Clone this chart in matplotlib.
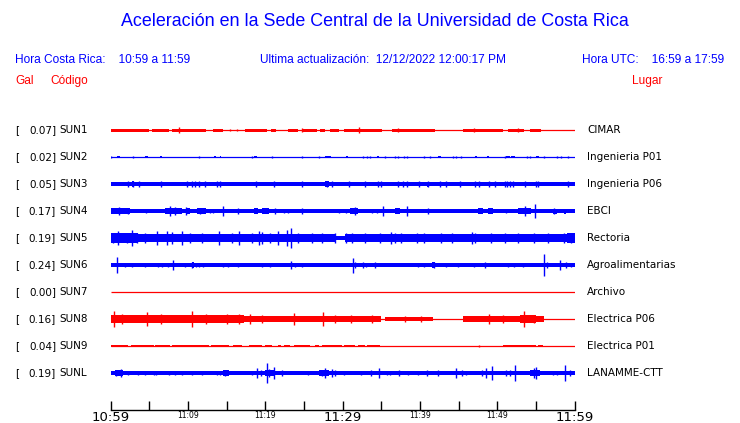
import matplotlib
matplotlib.use("Agg")
import matplotlib.pyplot as plt
import matplotlib.transforms as mtransforms

# ---------------- data ----------------
codes = ["SUN1", "SUN2", "SUN3", "SUN4", "SUN5", "SUN6", "SUN7", "SUN8", "SUN9", "SUNL"]
places = ["CIMAR", "Ingenieria P01", "Ingenieria P06", "EBCI", "Rectoria",
          "Agroalimentarias", "Archivo", "Electrica P06", "Electrica P01", "LANAMME-CTT"]
peak_gal = [0.07, 0.02, 0.05, 0.17, 0.19, 0.24, 0.00, 0.16, 0.04, 0.19]
trace_colors = ["red", "blue", "blue", "blue", "blue", "blue", "red", "red", "red", "blue"]

# minutes after 10:59
tick_minutes = list(range(0, 61, 5))
tick_labels = ["10:59", "", "11:09", "", "11:19", "", "11:29", "", "11:39", "", "11:49", "", "11:59"]
big_labels = ["10:59", "11:29", "11:59"]

# Envelope of each trace: bursts (start_min, end_min, half-amplitude) and spikes (min, half-amplitude)
bursts = {
    "SUN1": [(0.0, 5.0, 1.5), (5.4, 7.5, 1.5), (7.9, 12.3, 1.5), (13.3, 14.6, 1.5), (17.4, 20.2, 1.5),
             (20.8, 21.4, 1.5), (22.9, 24.2, 1.5), (24.8, 26.7, 1.5), (27.1, 27.7, 1.5), (28.4, 29.5, 1.5),
             (30.2, 35.1, 1.5), (36.4, 41.9, 1.5), (45.6, 50.8, 1.5), (51.4, 53.5, 1.5), (54.2, 55.7, 1.5)],
    "SUN2": [(0.9, 1.2, 1.3), (4.5, 4.8, 1.3), (6.4, 6.6, 1.3), (13.4, 13.7, 1.3), (14.1, 14.3, 1.3),
             (18.6, 18.9, 1.3), (27.8, 28.5, 1.3), (30.4, 30.7, 1.3), (34.4, 34.7, 1.3), (42.4, 42.8, 1.3),
             (47.1, 47.4, 1.3), (48.7, 49.0, 1.3), (51.2, 51.6, 1.3), (51.8, 52.3, 1.3), (55.0, 55.4, 1.3)],
    "SUN3": [(0.0, 60.0, 1.7), (2.8, 3.1, 2.7), (27.8, 28.2, 2.8), (40.9, 41.2, 2.5)],
    "SUN4": [(0.0, 60.0, 1.7), (0.0, 2.5, 2.7), (3.6, 4.0, 2.0), (7.1, 9.2, 2.7), (9.7, 10.3, 2.7),
             (11.2, 12.3, 2.7), (13.9, 14.2, 2.0), (15.7, 16.6, 2.3), (18.5, 19.1, 2.7), (19.6, 20.5, 2.7),
             (24.7, 25.2, 2.3), (26.2, 27.1, 2.3), (31.0, 32.0, 2.7), (36.8, 37.4, 2.7), (38.9, 39.8, 2.0),
             (42.5, 44.5, 2.3), (47.5, 48.2, 2.7), (48.8, 49.5, 2.7), (50.1, 50.5, 2.0), (52.7, 54.4, 3.0),
             (57.2, 57.8, 2.5), (58.7, 58.9, 2.5)],
    "SUN5": [(0.0, 29.0, 4.0), (29.0, 30.3, 2.0), (30.3, 60.0, 4.0), (0.0, 3.6, 4.6), (6.5, 9.0, 4.4),
             (17.0, 29.0, 4.4), (46.0, 48.0, 4.4), (59.0, 60.0, 4.6)],
    "SUN6": [(0.0, 60.0, 1.6), (10.5, 10.8, 2.7), (24.7, 25.0, 2.3), (41.6, 42.0, 2.7), (46.8, 47.2, 2.3)],
    "SUN7": [],
    "SUN8": [(0.0, 17.2, 3.7), (17.2, 23.6, 2.7), (23.6, 35.0, 3.0), (35.5, 41.7, 2.3), (45.6, 56.0, 2.7),
             (53.0, 55.0, 3.7)],
    "SUN9": [(0.0, 2.2, 1.3), (2.6, 5.6, 1.3), (5.8, 7.7, 1.3), (7.9, 12.7, 1.3), (13.0, 15.3, 1.3),
             (15.9, 17.0, 1.3), (17.9, 19.6, 1.3), (20.0, 20.9, 1.3), (21.7, 22.0, 1.3), (22.4, 23.2, 1.3),
             (23.7, 25.8, 1.3), (26.5, 26.9, 1.3), (27.3, 29.9, 1.3), (30.2, 31.6, 1.3), (32.0, 32.9, 1.3),
             (33.2, 34.8, 1.3), (50.8, 55.0, 1.3), (55.3, 55.9, 1.3)],
    "SUNL": [(0.0, 60.0, 1.7), (0.6, 1.6, 2.7), (14.5, 15.3, 2.7), (18.0, 19.5, 2.3), (20.0, 21.3, 3.0),
             (27.0, 28.2, 2.7), (34.5, 35.0, 2.3), (36.8, 37.6, 2.3), (40.7, 42.6, 2.3), (44.5, 45.8, 2.3),
             (47.8, 48.6, 2.3), (51.0, 52.5, 2.3), (54.3, 55.5, 3.0), (58.5, 59.2, 2.3)],
}

spikes = {
    "SUN1": [(8.9, 3.3), (15.5, 1.3), (16.3, 1.3), (24.8, 2.3), (32.1, 3.3), (37.2, 2.0), (47.0, 1.7),
             (52.7, 2.0)],
    "SUN2": [(0.1, 1.3), (2.9, 1.3), (11.4, 1.3), (18.3, 1.3), (20.9, 1.3), (24.8, 1.3), (27.0, 1.3),
             (32.7, 1.3), (33.2, 1.3), (33.5, 1.3), (35.5, 1.3), (36.8, 1.3), (37.2, 1.3), (37.9, 1.3),
             (38.3, 1.3), (40.6, 1.3), (41.3, 1.3), (44.3, 1.3), (44.7, 1.3), (45.3, 1.3), (51.0, 1.3),
             (53.8, 1.3), (54.2, 1.3), (56.0, 1.3), (57.8, 1.3), (58.2, 1.3), (59.1, 1.3)],
    "SUN3": [(2.3, 2.7), (2.9, 3.0), (3.7, 2.7), (6.5, 2.7), (9.9, 2.7), (10.5, 2.7), (10.9, 2.7),
             (11.4, 2.7), (12.2, 2.7), (13.8, 2.7), (14.2, 2.7), (18.8, 2.7), (21.1, 2.7), (24.8, 2.7),
             (28.0, 3.0), (28.6, 2.7), (30.8, 2.7), (32.9, 2.7), (34.6, 2.7), (35.0, 2.7), (37.2, 2.7),
             (37.8, 2.7), (38.3, 2.7), (39.9, 2.7), (41.1, 2.8), (42.6, 2.7), (43.4, 2.7), (45.2, 2.7),
             (47.1, 2.7), (47.7, 2.7), (49.0, 2.7), (49.7, 2.7), (51.0, 2.7), (51.3, 2.7), (51.6, 2.7),
             (52.0, 2.7), (53.6, 2.7), (55.0, 2.7), (55.3, 2.7), (59.1, 2.7)],
    "SUN4": [(1.1, 4.0), (2.2, 3.3), (4.6, 2.3), (7.7, 4.7), (8.4, 4.3), (9.8, 4.3), (11.6, 3.3),
             (12.9, 2.3), (13.2, 2.3), (14.6, 4.7), (16.5, 3.3), (21.3, 3.3), (22.4, 2.3), (22.9, 2.3),
             (24.8, 3.3), (29.5, 2.3), (30.4, 2.3), (31.6, 4.0), (33.8, 2.3), (34.4, 2.3), (35.3, 4.7),
             (38.3, 5.0), (41.1, 3.3), (51.2, 2.3), (53.6, 4.7), (54.9, 7.3), (57.4, 2.7)],
    "SUN5": [(0.3, 4.7), (1.0, 7.3), (2.1, 5.0), (2.8, 8.0), (3.4, 5.0), (4.5, 4.7), (6.0, 6.7), (7.3, 6.7),
             (8.0, 6.0), (9.2, 6.7), (10.3, 5.3), (11.8, 5.3), (14.0, 6.7), (15.7, 5.3), (16.6, 7.3),
             (18.3, 5.3), (19.2, 6.7), (19.6, 6.0), (20.6, 5.3), (21.7, 6.7), (22.8, 8.3), (23.4, 9.7),
             (24.2, 5.3), (26.0, 5.3), (27.3, 5.3), (29.0, 4.7), (30.5, 5.0), (31.2, 5.3), (32.9, 5.0),
             (34.8, 5.3), (36.3, 6.0), (36.8, 5.3), (37.6, 5.3), (39.6, 5.3), (40.6, 5.3), (42.8, 5.3),
             (44.1, 5.0), (46.7, 6.0), (47.1, 5.3), (49.2, 5.3), (51.0, 5.3), (52.7, 5.3), (54.8, 5.0),
             (56.6, 5.0), (58.7, 5.3), (59.6, 5.3)],
    "SUN6": [(0.9, 8.3), (1.9, 2.0), (2.8, 2.3), (4.4, 2.3), (6.2, 2.3), (6.7, 2.3), (7.4, 2.3), (8.1, 5.0),
             (9.6, 2.3), (10.6, 2.7), (11.0, 2.3), (11.5, 2.3), (12.0, 2.3), (14.6, 2.3), (15.2, 2.3),
             (16.5, 2.3), (19.6, 2.3), (20.6, 2.3), (23.4, 4.3), (23.9, 2.3), (24.8, 2.3), (31.3, 7.5),
             (31.6, 3.3), (32.7, 2.7), (33.0, 2.3), (34.2, 3.3), (39.7, 2.3), (40.6, 2.3), (41.8, 2.7),
             (43.4, 2.3), (44.9, 2.3), (47.0, 2.3), (48.4, 2.7), (51.4, 2.3), (52.2, 2.3), (53.3, 2.3),
             (56.0, 11.0), (56.5, 2.7), (58.1, 5.0), (58.9, 2.7), (59.5, 2.3)],
    "SUN7": [],
    "SUN8": [(0.4, 8.0), (1.5, 5.0), (4.7, 6.7), (6.5, 5.0), (10.5, 8.0), (12.3, 5.0), (15.1, 5.0),
             (16.6, 5.0), (18.1, 5.0), (19.6, 4.0), (23.7, 5.7), (27.5, 6.7), (29.0, 4.0), (31.1, 4.3),
             (33.8, 4.0), (38.1, 3.0), (40.2, 3.0), (49.0, 5.0), (50.8, 4.0), (53.5, 8.3), (54.8, 4.3)],
    "SUN9": [(47.7, 1.3)],
    "SUNL": [(0.7, 2.7), (1.3, 4.3), (2.2, 2.0), (3.5, 2.0), (4.4, 2.0), (5.6, 2.0), (5.9, 2.0), (7.5, 2.0),
             (8.3, 2.3), (9.3, 2.3), (10.5, 2.0), (11.8, 2.0), (13.8, 2.3), (14.2, 2.3), (14.8, 2.7),
             (18.3, 2.3), (19.0, 4.7), (19.4, 2.7), (20.2, 10.0), (20.5, 4.0), (21.2, 5.7), (22.2, 2.7),
             (25.6, 2.0), (27.3, 3.3), (27.7, 5.0), (28.6, 4.0), (29.0, 2.7), (30.2, 2.3), (32.4, 2.0),
             (33.7, 2.7), (34.7, 5.0), (35.7, 2.3), (36.1, 2.3), (37.3, 3.3), (38.5, 2.0), (39.7, 2.3),
             (40.9, 2.7), (42.4, 2.7), (44.7, 4.7), (45.4, 3.3), (46.0, 2.3), (48.0, 3.3), (48.5, 5.0),
             (49.3, 6.7), (51.2, 3.3), (51.7, 3.3), (52.3, 8.3), (54.8, 5.0), (55.0, 5.7), (57.2, 2.3),
             (57.8, 2.3), (58.8, 8.3), (59.4, 2.7)],
}

# ---------------- figure ----------------
W, H = 740, 423
fig = plt.figure(figsize=(W / 100, H / 100), dpi=100)

def fx(px):
    return px / W

def fy(py):
    return 1 - py / H

BLUE = "#0000ff"
RED = "#ff0000"
col = {"red": RED, "blue": BLUE}

ax_left, ax_right, ax_top, ax_bot = 110.5, 574.5, 115, 409.5
ax = fig.add_axes([fx(ax_left), fy(ax_bot), (ax_right - ax_left) / W, (ax_bot - ax_top) / H])
ax.set_xlim(0, 60)
row_px = 27.0
top_rows = (130 - ax_top) / row_px
bot_rows = (ax_bot - 130) / row_px
ax.set_ylim(bot_rows, -top_rows)
px = 1.0 / row_px  # one pixel in data units

for i, code in enumerate(codes):
    c = col[trace_colors[i]]
    ax.hlines(i, 0, 60, colors=c, lw=0.9)
    for (s, e, a) in bursts[code]:
        ax.fill_between([s, e], [i - a * px] * 2, [i + a * px] * 2, color=c, lw=0)
    if spikes[code]:
        t = [s[0] for s in spikes[code]]
        lo = [i - s[1] * px for s in spikes[code]]
        hi = [i + s[1] * px for s in spikes[code]]
        ax.vlines(t, lo, hi, colors=c, lw=1.0)

for side in ["top", "right", "left"]:
    ax.spines[side].set_visible(False)
ax.spines["bottom"].set_linewidth(1.0)
ax.set_yticks([])
ax.set_xticks(tick_minutes)
ax.set_xticklabels(tick_labels, family="DejaVu Sans")
ax.tick_params(axis="x", direction="in", length=6.5, width=1.0, pad=1)
for lab in ax.get_xticklabels():
    if lab.get_text() in big_labels:
        lab.set_fontsize(9.5)
    else:
        lab.set_fontsize(5.5)
ax.patch.set_alpha(0)

# ---------------- text ----------------
fig.text(fx(375), fy(22), "Aceleración en la Sede Central de la Universidad de Costa Rica",
         ha="center", va="center", color=BLUE, fontsize=12.9, family="Liberation Sans")
hdr = dict(va="center", color=BLUE, fontsize=8.6, family="Liberation Sans")
fig.text(fx(15), fy(60), "Hora Costa Rica:    10:59 a 11:59", ha="left", **hdr)
fig.text(fx(260), fy(60), "Ultima actualización:  12/12/2022 12:00:17 PM", ha="left", **hdr)
fig.text(fx(724), fy(60), "Hora UTC:    16:59 a 17:59", ha="right", **hdr)
red_hdr = dict(va="center", color=RED, fontsize=8.6, family="Liberation Sans")
fig.text(fx(15), fy(81), "Gal", ha="left", **red_hdr)
fig.text(fx(50), fy(81), "Código", ha="left", **red_hdr)
fig.text(fx(662), fy(81), "Lugar", ha="right", **red_hdr)

tr = mtransforms.blended_transform_factory(fig.transFigure, ax.transData)
lab = dict(va="center", color="black", fontsize=7.5, family="DejaVu Sans", transform=tr)
for i, code in enumerate(codes):
    fig.text(fx(15), i, "[", ha="left", **lab)
    fig.text(fx(56), i, f"{peak_gal[i]:.2f}]", ha="right", **lab)
    fig.text(fx(59), i, code, ha="left", **lab)
    fig.text(fx(587), i, places[i], ha="left", **lab)

fig.savefig("out.png", dpi=100)
